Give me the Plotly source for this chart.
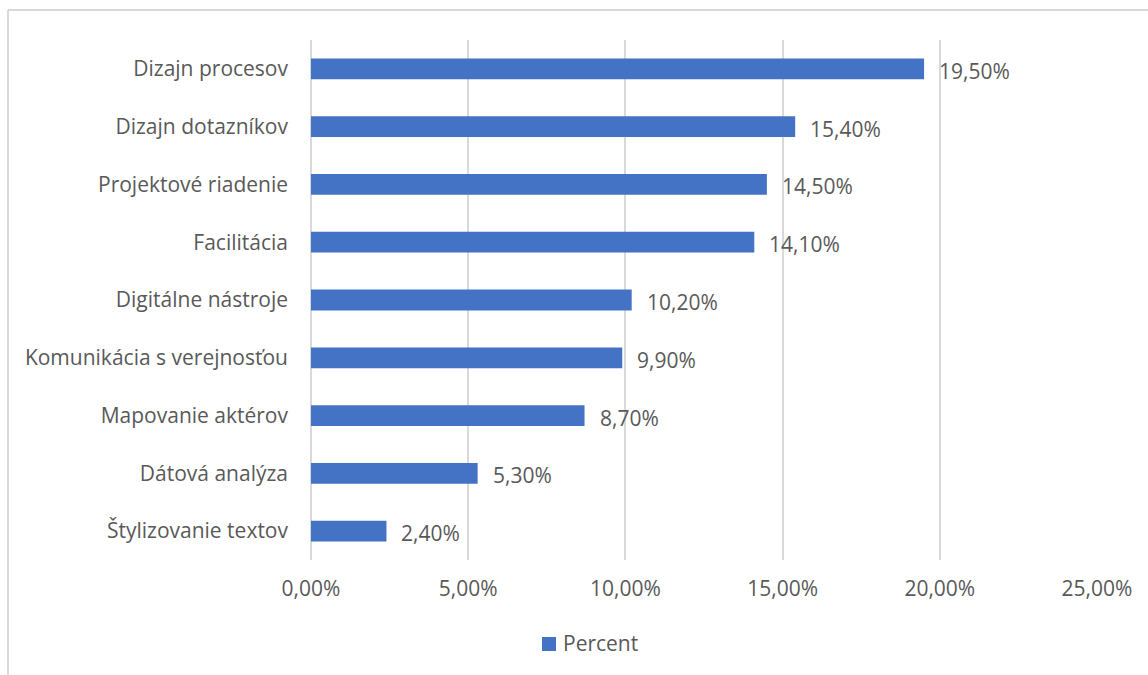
import plotly.graph_objects as go

# Skill areas and their share of responses (percent)
categories = [
    "Dizajn procesov",
    "Dizajn dotazníkov",
    "Projektové riadenie",
    "Facilitácia",
    "Digitálne nástroje",
    "Komunikácia s verejnosťou",
    "Mapovanie aktérov",
    "Dátová analýza",
    "Štylizovanie textov",
]
percent = [19.5, 15.4, 14.5, 14.1, 10.2, 9.9, 8.7, 5.3, 2.4]

tick_values = [0, 5, 10, 15, 20, 25]
tick_labels = ["0,00%", "5,00%", "10,00%", "15,00%", "20,00%", "25,00%"]
series_name = "Percent"

BAR_COLOR = "#4472C4"
TEXT_COLOR = "#595959"
GRID_COLOR = "#D9D9D9"
FONT = "Open Sans"
FSIZE = 21


def fmt(v):
    return f"{v:.2f}".replace(".", ",") + "%"


W, H = 1148, 675
L, R, T, B = 311, 51, 40, 115
PW, PH = W - L - R, H - T - B


def px_x(p):
    return (p - L) / PW


def px_y(p):
    return (H - B - p) / PH


fig = go.Figure()
fig.add_trace(go.Bar(
    x=percent,
    y=categories,
    orientation="h",
    name=series_name,
    marker=dict(color=BAR_COLOR, line=dict(width=0)),
    hoverinfo="skip",
    showlegend=False,
))

# value labels to the right of each bar
for cat, v in zip(categories, percent):
    fig.add_annotation(
        x=v, y=cat, xref="x", yref="y",
        text=fmt(v), showarrow=False,
        xanchor="left", yanchor="middle", xshift=13, yshift=-2,
        font=dict(family=FONT, size=FSIZE, color=TEXT_COLOR),
    )

# legend: colour swatch and series name below the axis
fig.add_shape(type="rect", xref="paper", yref="paper",
              x0=px_x(542), x1=px_x(556), y0=px_y(651), y1=px_y(637),
              fillcolor=BAR_COLOR, line=dict(width=0))
fig.add_annotation(x=px_x(561), y=px_y(643), xref="paper", yref="paper",
                   text=series_name, showarrow=False,
                   xanchor="left", yanchor="middle",
                   font=dict(family=FONT, size=FSIZE, color=TEXT_COLOR))

# chart-area frame (top and left edges)
fig.add_shape(type="line", xref="paper", yref="paper",
              x0=px_x(8), x1=px_x(W + 5), y0=px_y(10), y1=px_y(10),
              line=dict(color=GRID_COLOR, width=2))
fig.add_shape(type="line", xref="paper", yref="paper",
              x0=px_x(8), x1=px_x(8), y0=px_y(H + 5), y1=px_y(10),
              line=dict(color=GRID_COLOR, width=2))

fig.update_layout(
    width=W, height=H,
    margin=dict(l=L, r=R, t=T, b=B),
    paper_bgcolor="white",
    plot_bgcolor="white",
    bargap=0.64,
    font=dict(family=FONT, size=FSIZE, color=TEXT_COLOR),
    showlegend=False,
    xaxis=dict(
        range=[0, 25],
        tickvals=tick_values,
        ticktext=tick_labels,
        showgrid=True,
        gridcolor=GRID_COLOR,
        gridwidth=2,
        zeroline=True,
        zerolinecolor=GRID_COLOR,
        zerolinewidth=2,
        showline=False,
        ticks="",
        ticklabelstandoff=14,
        tickfont=dict(family=FONT, size=FSIZE, color=TEXT_COLOR),
        fixedrange=True,
    ),
    yaxis=dict(
        categoryorder="array",
        categoryarray=list(reversed(categories)),
        showgrid=False,
        showline=False,
        ticks="",
        ticklabelstandoff=22,
        tickfont=dict(family=FONT, size=FSIZE, color=TEXT_COLOR),
        fixedrange=True,
    ),
)

fig.write_html("out.html")
